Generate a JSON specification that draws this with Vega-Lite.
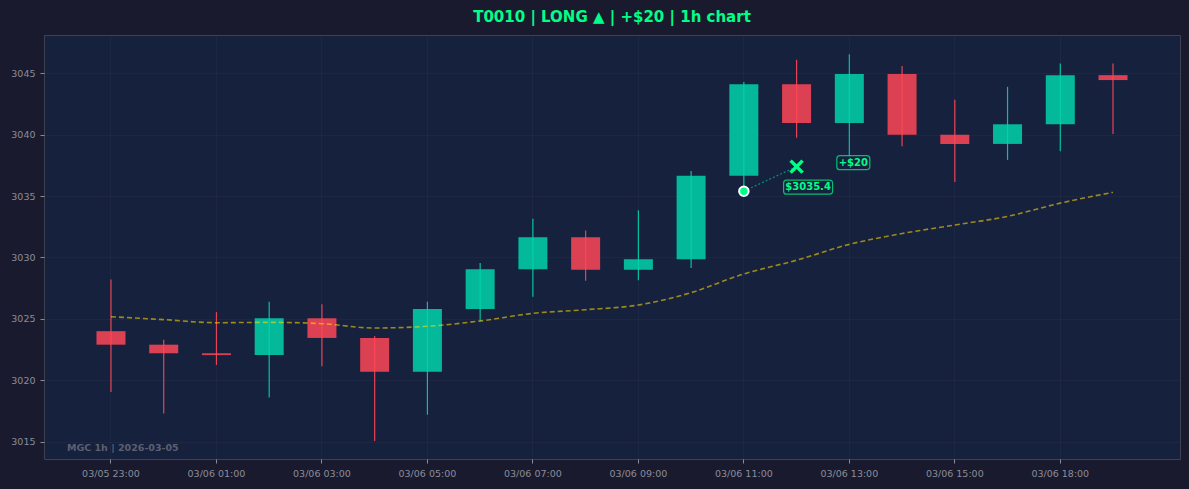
{
  "$schema": "https://vega.github.io/schema/vega-lite/v6.json",
  "description": "MGC 1h candlestick chart for trade T0010 with entry and exit marks and a moving average.",
  "width": 1136,
  "height": 424,
  "autosize": {"type": "none"},
  "padding": {"left": 44, "top": 35, "right": 9, "bottom": 30},
  "background": "#1a1a2e",
  "title": {
    "text": "T0010 | LONG ▲ | +$20 | 1h chart",
    "color": "#00ff88",
    "font": "DejaVu Sans",
    "fontSize": 15,
    "fontWeight": "bold",
    "anchor": "middle",
    "baseline": "bottom",
    "offset": 12,
    "dy": 17
  },
  "datasets": {
    "candles": [
      {"t": "03/05 23:00", "open": 3024.0, "high": 3028.2, "low": 3019.05, "close": 3022.9, "ma": 3025.18},
      {"t": "03/06 00:00", "open": 3022.9, "high": 3023.3, "low": 3017.3, "close": 3022.2, "ma": 3024.94},
      {"t": "03/06 01:00", "open": 3022.2, "high": 3025.55, "low": 3021.25, "close": 3022.05, "ma": 3024.69},
      {"t": "03/06 02:00", "open": 3022.05, "high": 3026.4, "low": 3018.6, "close": 3025.05, "ma": 3024.72},
      {"t": "03/06 03:00", "open": 3025.05, "high": 3026.2, "low": 3021.15, "close": 3023.45, "ma": 3024.61},
      {"t": "03/06 04:00", "open": 3023.45, "high": 3023.6, "low": 3015.05, "close": 3020.7, "ma": 3024.26},
      {"t": "03/06 05:00", "open": 3020.7, "high": 3026.4, "low": 3017.2, "close": 3025.8, "ma": 3024.4},
      {"t": "03/06 06:00", "open": 3025.8, "high": 3029.55, "low": 3024.8, "close": 3029.05, "ma": 3024.83},
      {"t": "03/06 07:00", "open": 3029.05, "high": 3033.15, "low": 3026.8, "close": 3031.65, "ma": 3025.45},
      {"t": "03/06 08:00", "open": 3031.65, "high": 3032.2, "low": 3028.1, "close": 3029.0, "ma": 3025.75},
      {"t": "03/06 09:00", "open": 3029.0, "high": 3033.85, "low": 3028.15, "close": 3029.85, "ma": 3026.13},
      {"t": "03/06 10:00", "open": 3029.85, "high": 3037.05, "low": 3029.15, "close": 3036.65, "ma": 3027.14},
      {"t": "03/06 11:00", "open": 3036.65, "high": 3044.3, "low": 3035.5, "close": 3044.1, "ma": 3028.66},
      {"t": "03/06 12:00", "open": 3044.1, "high": 3046.1, "low": 3039.75, "close": 3040.95, "ma": 3029.78},
      {"t": "03/06 13:00", "open": 3040.95, "high": 3046.55, "low": 3037.5, "close": 3044.95, "ma": 3031.07},
      {"t": "03/06 14:00", "open": 3044.95, "high": 3045.6, "low": 3039.05, "close": 3040.0, "ma": 3031.95},
      {"t": "03/06 15:00", "open": 3040.0, "high": 3042.85, "low": 3036.15, "close": 3039.25, "ma": 3032.65},
      {"t": "03/06 16:00", "open": 3039.25, "high": 3043.9, "low": 3037.95, "close": 3040.85, "ma": 3033.35},
      {"t": "03/06 18:00", "open": 3040.85, "high": 3045.8, "low": 3038.65, "close": 3044.85, "ma": 3034.43},
      {"t": "03/06 19:00", "open": 3044.85, "high": 3045.8, "low": 3040.05, "close": 3044.45, "ma": 3035.31}
    ],
    "trade": [
      {"kind": "entry", "t": "03/06 11:00", "price": 3035.4},
      {"kind": "exit", "t": "03/06 12:00", "price": 3037.4}
    ],
    "labels": [
      {"kind": "entry", "t": "03/06 12:00", "price": 3035.4, "label": "$3035.4"},
      {"kind": "pnl", "t": "03/06 13:00", "price": 3037.4, "label": "+$20"}
    ]
  },
  "encoding": {
    "x": {
      "field": "t",
      "type": "ordinal",
      "scale": {"type": "band", "paddingInner": 0.45, "paddingOuter": 0.995},
      "axis": {
        "title": null,
        "labelAngle": 0,
        "values": ["03/05 23:00", "03/06 01:00", "03/06 03:00", "03/06 05:00", "03/06 07:00", "03/06 09:00", "03/06 11:00", "03/06 13:00", "03/06 15:00", "03/06 18:00"]
      }
    }
  },
  "layer": [
    {
      "data": {"name": "candles"},
      "mark": {"type": "bar", "opacity": 0.85},
      "encoding": {
        "y": {
          "field": "open",
          "type": "quantitative",
          "scale": {"domain": [3013.59, 3048.12], "nice": false, "zero": false},
          "axis": {"title": null, "format": "d", "values": [3015, 3020, 3025, 3030, 3035, 3040, 3045]}
        },
        "y2": {"field": "close"},
        "color": {
          "condition": {"test": "datum.close >= datum.open", "value": "#00d4aa"},
          "value": "#ff4757"
        }
      }
    },
    {
      "data": {"name": "candles"},
      "mark": {"type": "rule", "strokeWidth": 1.2, "opacity": 0.9},
      "encoding": {
        "y": {"field": "low", "type": "quantitative"},
        "y2": {"field": "high"},
        "color": {
          "condition": {"test": "datum.close >= datum.open", "value": "#00d4aa"},
          "value": "#ff4757"
        }
      }
    },
    {
      "data": {"name": "candles"},
      "mark": {"type": "line", "color": "#ffd700", "opacity": 0.58, "strokeWidth": 1.6, "strokeDash": [5, 3], "interpolate": "monotone"},
      "encoding": {
        "y": {"field": "ma", "type": "quantitative"}
      }
    },
    {
      "data": {"name": "trade"},
      "mark": {"type": "line", "color": "#00d4aa", "opacity": 0.6, "strokeWidth": 1.2, "strokeDash": [2, 2]},
      "encoding": {
        "y": {"field": "price", "type": "quantitative"}
      }
    },
    {
      "data": {"name": "trade"},
      "transform": [{"filter": "datum.kind == 'entry'"}],
      "mark": {"type": "point", "shape": "circle", "filled": true, "size": 90, "color": "#00ff88", "stroke": "#ffffff", "strokeWidth": 2, "opacity": 1},
      "encoding": {
        "y": {"field": "price", "type": "quantitative"}
      }
    },
    {
      "data": {"name": "trade"},
      "transform": [{"filter": "datum.kind == 'exit'"}],
      "mark": {"type": "point", "shape": "M-1,-1L1,1M1,-1L-1,1", "filled": false, "size": 144, "color": "#00ff88", "strokeWidth": 3.5, "opacity": 1},
      "encoding": {
        "y": {"field": "price", "type": "quantitative"}
      }
    },
    {
      "data": {"name": "labels"},
      "transform": [{"filter": "datum.kind == 'entry'"}],
      "mark": {
        "type": "point",
        "shape": "M-0.4,-0.44H1.32Q1.44,-0.44 1.44,-0.32V0Q1.44,0.12 1.32,0.12H-0.4Q-0.52,0.12 -0.52,0V-0.32Q-0.52,-0.44 -0.4,-0.44Z",
        "size": 2500,
        "filled": true,
        "fill": "#16213e",
        "fillOpacity": 0.85,
        "stroke": "#00ff88",
        "strokeOpacity": 0.7,
        "strokeWidth": 1.2,
        "opacity": 1
      },
      "encoding": {
        "y": {"field": "price", "type": "quantitative"}
      }
    },
    {
      "data": {"name": "labels"},
      "transform": [{"filter": "datum.kind == 'pnl'"}],
      "mark": {
        "type": "point",
        "shape": "M-0.38,-0.44H0.7Q0.82,-0.44 0.82,-0.32V0Q0.82,0.12 0.7,0.12H-0.38Q-0.5,0.12 -0.5,0V-0.32Q-0.5,-0.44 -0.38,-0.44Z",
        "size": 2500,
        "filled": true,
        "fill": "#16213e",
        "fillOpacity": 0.85,
        "stroke": "#00ff88",
        "strokeOpacity": 0.7,
        "strokeWidth": 1.2,
        "opacity": 1
      },
      "encoding": {
        "y": {"field": "price", "type": "quantitative"}
      }
    },
    {
      "data": {"name": "labels"},
      "transform": [{"filter": "datum.kind == 'entry'"}],
      "mark": {"type": "text", "font": "DejaVu Sans", "fontSize": 10, "fontWeight": "bold", "color": "#00ff88", "dx": 11.5, "dy": -4, "baseline": "middle", "align": "center"},
      "encoding": {
        "y": {"field": "price", "type": "quantitative"},
        "text": {"field": "label"}
      }
    },
    {
      "data": {"name": "labels"},
      "transform": [{"filter": "datum.kind == 'pnl'"}],
      "mark": {"type": "text", "font": "DejaVu Sans", "fontSize": 10, "fontWeight": "bold", "color": "#00ff88", "dx": 4, "dy": -4, "baseline": "middle", "align": "center"},
      "encoding": {
        "y": {"field": "price", "type": "quantitative"},
        "text": {"field": "label"}
      }
    },
    {
      "data": {"values": [{"t": "03/05 23:00", "note": "MGC 1h | 2026-03-05"}]},
      "mark": {"type": "text", "font": "DejaVu Sans", "fontSize": 9.5, "fontWeight": "bold", "color": "#5c6070", "dx": -44, "baseline": "middle", "align": "left"},
      "encoding": {
        "y": {"datum": 3014.49},
        "text": {"field": "note"}
      }
    }
  ],
  "config": {
    "view": {"fill": "#16213e", "stroke": "#3d4150", "strokeWidth": 1},
    "axis": {
      "domain": false,
      "labelFont": "DejaVu Sans",
      "labelFontSize": 9.5,
      "labelColor": "#8a8d99",
      "labelPadding": 5,
      "tickColor": "#8a8d99",
      "tickSize": 4,
      "tickWidth": 1,
      "grid": true,
      "gridColor": "#ffffff",
      "gridOpacity": 0.03
    }
  }
}
